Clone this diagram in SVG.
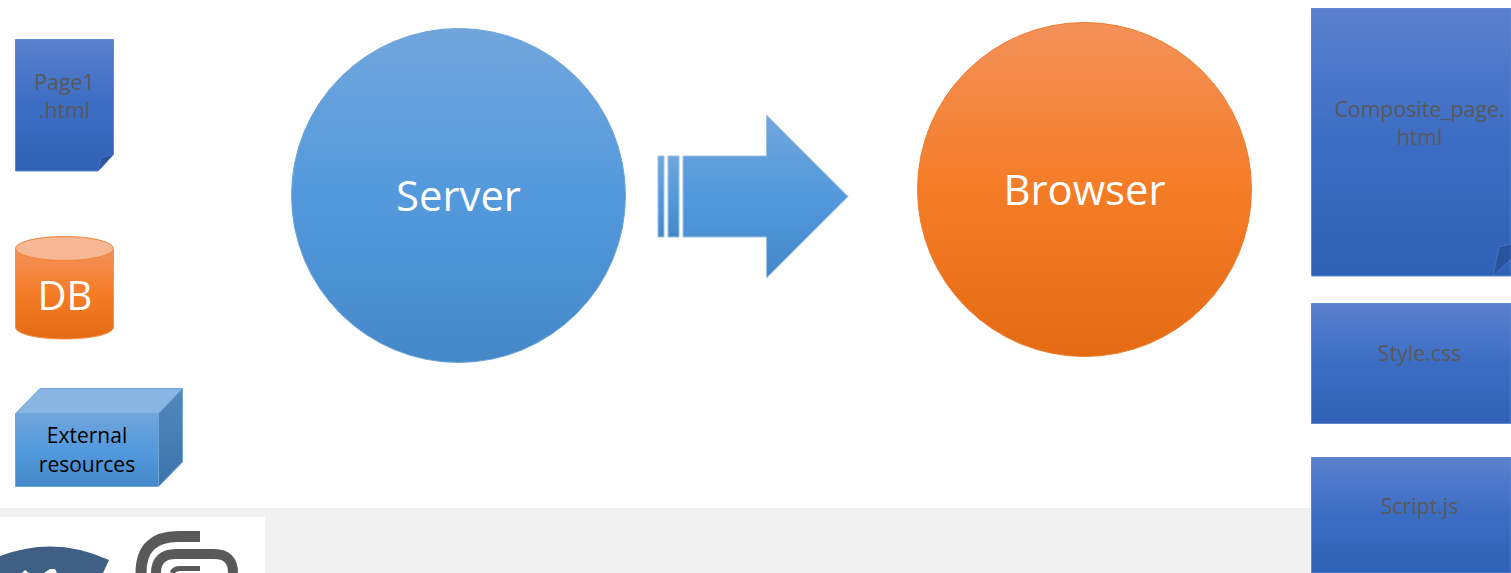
<svg xmlns="http://www.w3.org/2000/svg" width="1511" height="573" viewBox="0 0 1511 573">
<defs>
<linearGradient id="blue" x1="0" y1="0" x2="0" y2="1"><stop offset="0" stop-color="#5b80cd"/><stop offset="0.5" stop-color="#3b6dc4"/><stop offset="1" stop-color="#2f62b6"/></linearGradient>
<linearGradient id="sky" x1="0" y1="0" x2="0" y2="1"><stop offset="0" stop-color="#71a6dc"/><stop offset="0.5" stop-color="#5399dc"/><stop offset="1" stop-color="#4488c8"/></linearGradient>
<linearGradient id="orange" x1="0" y1="0" x2="0" y2="1"><stop offset="0" stop-color="#f39159"/><stop offset="0.5" stop-color="#f57c27"/><stop offset="1" stop-color="#e56a14"/></linearGradient>
<linearGradient id="side" x1="0" y1="0" x2="0" y2="1"><stop offset="0" stop-color="#5387bc"/><stop offset="1" stop-color="#3b75ac"/></linearGradient>
</defs>
<style>
text{font-family:"Open Sans","Noto Sans","DejaVu Sans",sans-serif;text-anchor:middle}
.doc{fill:url(#blue);stroke:#6088d2;stroke-width:1}
.fold{fill:#2a539e;stroke:#4d78c8;stroke-width:.75}
.dark{fill:#595959;font-size:21.300px}
.big{fill:#fff;font-size:41.800px}
.sm{fill:#000;font-size:21px}
</style>
<rect width="1511" height="573" fill="#fff"/>
<rect x="0" y="508" width="1511" height="65" fill="#f1f1f1"/>
<g id="logos">
<rect x="0" y="517" width="265" height="56" fill="#fff"/>
<path d="M0 556Q55 535 109 560L103 573H0Z" fill="#3f5f85"/>
<path d="M44 573L50 569H55L57 573ZM22 573L25 570L29 573Z" fill="#fff"/>
<path d="M200 536.500H178Q141 536.500 141 573" fill="none" stroke="#595959" stroke-width="11"/>
<path d="M156 573Q156 554 176 554H214Q233 554 233 573" fill="none" stroke="#595959" stroke-width="10"/>
<path d="M172 573Q174 568.500 180 568.500H200" fill="none" stroke="#595959" stroke-width="5"/>
</g>
<g id="connectors">
<path d="M658 156h6v81h-6zM668 156h11v81h-11z" fill="url(#sky)" stroke="#9cc3e8" stroke-width="1"/>
<path d="M683 156H766.500V115L848 196.500L766.500 278V237H683Z" fill="url(#sky)" stroke="#9cc3e8" stroke-width="1"/>
</g>
<g id="page1">
<path class="doc" d="M15.500 39.500H113.500V154L98 171H15.500Z"/>
<path class="fold" d="M98 171L101 158L114 154Z"/>
<text class="dark" x="64.500" y="90">Page1</text>
<text class="dark" x="64.500" y="118">.html</text>
</g>
<g id="db">
<path d="M15.500 248.500V327C15.500 334 37 339 64.500 339S113.500 334 113.500 327V248.500Z" fill="url(#orange)" stroke="#f5934f" stroke-width="1"/>
<ellipse cx="64.500" cy="248.500" rx="49" ry="12" fill="#f7b795" stroke="#f08537" stroke-width="1"/>
<text style="fill:#fff;font-size:40px" x="65" y="310">DB</text>
</g>
<g id="external">
<path d="M15.500 413.500V486.500H158.500V413.500Z" fill="url(#sky)" stroke="#6fa6dc" stroke-width="1"/>
<path d="M15.500 413.500L40 388.500H182.500L158.500 413.500Z" fill="#88b5e2" stroke="#6fa6dc" stroke-width="1"/>
<path d="M158.500 413.500L182.500 388.500V462L158.500 486.500Z" fill="url(#side)" stroke="#6fa6dc" stroke-width="1"/>
<text class="sm" x="87" y="443">External</text>
<text class="sm" x="87" y="472">resources</text>
</g>
<g id="server">
<circle cx="458.500" cy="195.500" r="167" fill="url(#sky)" stroke="#6ea5da" stroke-width="1"/>
<text class="big" x="458.500" y="211">Server</text>
</g>
<g id="browser">
<circle cx="1084.500" cy="189.500" r="167" fill="url(#orange)" stroke="#ee7c2c" stroke-width="1"/>
<text class="big" x="1084.500" y="205">Browser</text>
</g>
<g id="composite">
<path class="doc" d="M1311.500 8.500H1511V276H1311.500Z"/>
<path class="fold" d="M1493 276L1499 247L1511 244V259Z"/>
<text class="dark" x="1419.500" y="117">Composite_page.</text>
<text class="dark" x="1419.500" y="145">html</text>
</g>
<g id="style">
<path class="doc" d="M1311.500 303.500H1511V423.500H1311.500Z"/>
<text class="dark" x="1419.500" y="361">Style.css</text>
</g>
<g id="script">
<path class="doc" d="M1311.500 457.500H1511V573H1311.500Z"/>
<text class="dark" x="1419.500" y="514">Script.js</text>
</g>
</svg>
